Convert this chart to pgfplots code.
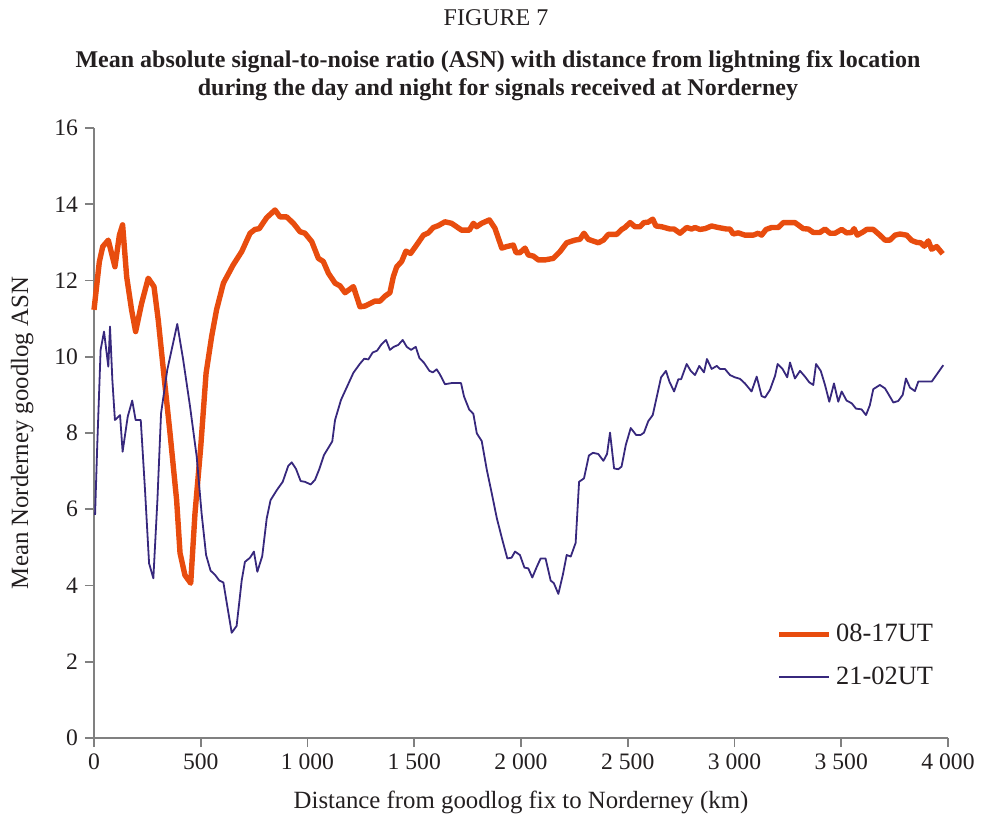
\documentclass[border=0pt]{standalone}
\usepackage{fontspec}
\setmainfont{Liberation Serif}
\usepackage{pgfplots}
\pgfplotsset{compat=1.18}
\definecolor{dayorange}{RGB}{232,76,14}
\definecolor{nightblue}{RGB}{55,40,125}
\definecolor{axisgray}{RGB}{128,128,128}
\definecolor{txt}{RGB}{35,31,32}
\begin{document}
\begin{tikzpicture}
\begin{axis}[
    scale only axis,
    width=427pt,height=305pt,
    xmin=0,xmax=4000,ymin=0,ymax=16,
    axis lines=left,
    axis line style={-,axisgray,line width=1pt},
    tick style={axisgray,line width=0.8pt},
    tick align=outside,
    major tick length=4.5pt,
    xtick={0,500,...,4000},
    xticklabels={0,500,1~000,1~500,2~000,2~500,3~000,3~500,4~000},
    ytick={0,2,...,16},
    yticklabels={0,2,4,6,8,10,12,14,16},
    ticklabel style={font=\fontsize{11.8}{13}\selectfont,text=txt},
    xlabel={Distance from goodlog fix to Norderney (km)},
    ylabel={Mean Norderney goodlog ASN},
    label style={font=\fontsize{12.4}{14}\selectfont,text=txt},
    xlabel style={at={(axis description cs:0.5,-0.106)},anchor=center},
    ylabel style={at={(axis description cs:-0.084,0.5)},anchor=center},
    legend style={draw=none,fill=none,at={(axis description cs:0.792,0.2)},anchor=north west,
        font=\fontsize{13.2}{15}\selectfont,text=txt,row sep=7pt},
    legend cell align=left,
    legend image code/.code={\draw[#1] (0pt,0pt) -- (25pt,0pt);},
    clip=false
]
\addplot[dayorange,line width=2.7pt,line join=round] coordinates {
(0,11.23)(25,12.49)(41,12.89)(67,13.06)(98,12.36)(119,13.19)(134,13.46)(153,12.10)
(176,11.23)(195,10.66)(223,11.40)(254,12.06)(281,11.84)(301,10.96)(325,9.65)(356,8.00)
(387,6.24)(403,4.85)(426,4.27)(453,4.06)(473,5.89)(500,7.64)(525,9.57)(551,10.53)
(574,11.23)(606,11.93)(652,12.41)(692,12.76)(731,13.24)(754,13.34)(774,13.36)(809,13.65)
(848,13.85)(871,13.67)(902,13.67)(934,13.50)(965,13.28)(988,13.24)(1020,13.02)(1051,12.58)
(1074,12.50)(1098,12.19)(1129,11.93)(1152,11.86)(1176,11.68)(1215,11.84)(1233,11.53)(1246,11.31)
(1269,11.33)(1316,11.46)(1340,11.46)(1363,11.59)(1386,11.68)(1402,12.10)(1418,12.36)(1441,12.50)
(1461,12.77)(1483,12.71)(1511,12.93)(1543,13.19)(1566,13.25)(1589,13.39)(1613,13.44)(1644,13.54)
(1675,13.50)(1722,13.32)(1758,13.32)(1777,13.50)(1792,13.41)(1816,13.50)(1852,13.59)(1878,13.37)
(1910,12.85)(1933,12.89)(1964,12.93)(1977,12.73)(1995,12.73)(2019,12.85)(2034,12.67)(2058,12.64)
(2081,12.54)(2112,12.54)(2151,12.58)(2183,12.76)(2214,12.99)(2253,13.06)(2276,13.08)(2295,13.24)
(2315,13.08)(2362,12.99)(2386,13.06)(2409,13.21)(2448,13.21)(2472,13.34)(2487,13.39)(2511,13.52)
(2534,13.41)(2557,13.41)(2576,13.52)(2596,13.53)(2617,13.61)(2632,13.43)(2659,13.41)(2698,13.35)
(2717,13.35)(2745,13.24)(2776,13.39)(2799,13.35)(2815,13.39)(2838,13.34)(2862,13.36)(2893,13.43)
(2924,13.39)(2963,13.35)(2979,13.35)(2994,13.22)(3018,13.25)(3049,13.19)(3088,13.19)(3111,13.24)
(3127,13.19)(3148,13.34)(3174,13.39)(3205,13.39)(3229,13.52)(3260,13.52)(3283,13.52)(3322,13.36)
(3346,13.35)(3369,13.26)(3400,13.26)(3424,13.35)(3447,13.24)(3471,13.24)(3502,13.34)(3525,13.25)
(3549,13.26)(3560,13.36)(3575,13.19)(3604,13.28)(3619,13.34)(3650,13.34)(3681,13.19)(3705,13.06)
(3728,13.06)(3752,13.19)(3775,13.22)(3806,13.19)(3830,13.05)(3853,13.00)(3872,12.99)(3889,12.90)
(3908,13.04)(3923,12.82)(3947,12.89)(3975,12.70)
};
\addlegendentry{08-17UT}
\addplot[nightblue,line width=0.9pt,line join=round] coordinates {
(5,5.85)(15,7.64)(31,10.18)(47,10.66)(67,9.74)(75,10.79)(86,9.39)(98,8.34)
(122,8.47)(134,7.51)(158,8.43)(179,8.85)(195,8.34)(219,8.34)(239,6.50)(258,4.58)
(278,4.19)(297,6.24)(314,8.51)(343,9.65)(390,10.86)(418,9.91)(450,8.69)(481,7.38)
(504,5.89)(525,4.80)(546,4.39)(567,4.28)(587,4.13)(606,4.08)(645,2.76)(668,2.94)
(692,4.14)(707,4.62)(731,4.73)(749,4.89)(765,4.36)(788,4.77)(809,5.76)(827,6.24)
(856,6.50)(884,6.72)(910,7.14)(926,7.23)(946,7.06)(968,6.74)(988,6.72)(1015,6.65)
(1035,6.77)(1055,7.05)(1077,7.42)(1116,7.78)(1129,8.34)(1157,8.87)(1184,9.20)(1215,9.58)
(1246,9.82)(1266,9.95)(1285,9.93)(1305,10.11)(1326,10.16)(1347,10.33)(1368,10.44)(1386,10.18)
(1404,10.26)(1425,10.31)(1446,10.44)(1465,10.26)(1485,10.18)(1507,10.26)(1524,9.97)(1546,9.84)
(1571,9.63)(1587,9.59)(1605,9.67)(1620,9.54)(1644,9.28)(1675,9.31)(1719,9.31)(1733,8.96)
(1757,8.62)(1777,8.50)(1793,7.99)(1816,7.79)(1840,7.03)(1863,6.42)(1887,5.76)(1913,5.19)
(1936,4.71)(1956,4.73)(1972,4.89)(1995,4.80)(2016,4.47)(2034,4.45)(2053,4.21)(2074,4.49)
(2092,4.71)(2115,4.71)(2139,4.13)(2154,4.06)(2175,3.78)(2196,4.28)(2214,4.80)(2233,4.76)
(2256,5.12)(2272,6.72)(2295,6.81)(2318,7.41)(2337,7.48)(2362,7.45)(2386,7.27)(2403,7.45)
(2417,8.01)(2436,7.07)(2456,7.05)(2471,7.12)(2491,7.69)(2514,8.13)(2539,7.95)(2561,7.95)
(2576,8.01)(2596,8.31)(2617,8.47)(2636,8.95)(2656,9.46)(2679,9.63)(2695,9.35)(2717,9.09)
(2737,9.41)(2750,9.41)(2776,9.81)(2795,9.63)(2815,9.52)(2835,9.76)(2857,9.59)(2871,9.94)
(2893,9.68)(2917,9.76)(2932,9.68)(2955,9.68)(2979,9.52)(3002,9.46)(3026,9.42)(3049,9.30)
(3080,9.09)(3104,9.48)(3127,8.97)(3143,8.93)(3166,9.13)(3190,9.50)(3202,9.81)(3225,9.68)
(3247,9.46)(3260,9.85)(3283,9.43)(3307,9.63)(3330,9.48)(3350,9.33)(3369,9.26)(3382,9.81)
(3404,9.63)(3424,9.26)(3444,8.82)(3466,9.30)(3486,8.82)(3502,9.09)(3525,8.85)(3549,8.78)
(3569,8.64)(3595,8.62)(3616,8.47)(3634,8.73)(3650,9.15)(3681,9.26)(3705,9.17)(3721,9.02)
(3744,8.80)(3767,8.84)(3788,9.00)(3803,9.43)(3822,9.19)(3845,9.10)(3861,9.35)(3924,9.35)
(3978,9.78)
};
\addlegendentry{21-02UT}
\end{axis}
\node[text=txt,font=\fontsize{12}{14}\selectfont] at (201pt,360pt) {FIGURE 7};
\node[text=txt,font=\fontsize{12}{14}\selectfont\bfseries,align=center] at (202pt,331pt)
    {Mean absolute signal-to-noise ratio (ASN) with distance from lightning fix location\\
     during the day and night for signals received at Norderney};
\pgfresetboundingbox
\path[use as bounding box] (-47pt,-39pt) rectangle (445.5pt,369pt);
\end{tikzpicture}
\end{document}
